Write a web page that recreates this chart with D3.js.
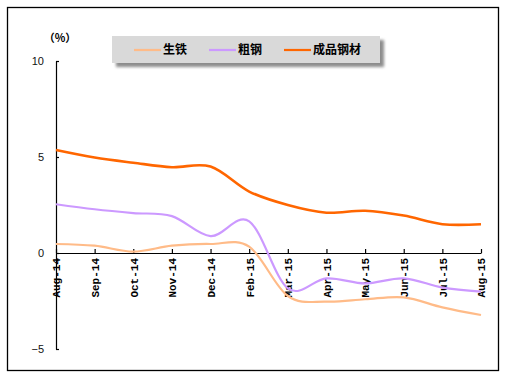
<!DOCTYPE html>
<html>
<head>
<meta charset="utf-8">
<script src="https://cdn.jsdelivr.net/npm/d3@7"></script>
<style>
  body { margin: 0; background: #fff; }
  svg { display: block; }
</style>
</head>
<body>
<div id="chart"></div>
<script>
// categories (no Jan-15 in the source)
var months = ["Aug-14","Sep-14","Oct-14","Nov-14","Dec-14","Feb-15","Mar-15","Apr-15","May-15","Jun-15","Jul-15","Aug-15"];

// year-on-year growth, %
var pigIron   = [0.47, 0.38, 0.07, 0.38, 0.47, 0.33, -2.24, -2.53, -2.41, -2.31, -2.83, -3.23];
var crudeSteel = [2.54, 2.28, 2.08, 1.92, 0.88, 1.65, -1.84, -1.32, -1.58, -1.32, -1.80, -2.01];
var steelProducts = [5.36, 4.97, 4.70, 4.47, 4.50, 3.20, 2.50, 2.10, 2.20, 1.95, 1.50, 1.50];

var seriesNames = ["生铁", "粗钢", "成品钢材"];
var seriesColors = ["#ffbb88", "#cc99ff", "#ff6600"];
var yTicks = [-5, 0, 5, 10];

var width = 515, height = 383;

var svg = d3.select("#chart").append("svg")
    .attr("width", width)
    .attr("height", height);

// outer frame
svg.append("rect")
    .attr("x", 7.5).attr("y", 7.5)
    .attr("width", 491).attr("height", 363)
    .style("fill", "#fff")
    .style("stroke", "#000")
    .style("stroke-width", 1.3);

var x = d3.scalePoint().domain(months).range([56, 481]);
var y = d3.scaleLinear().domain([-5, 10]).range([349, 61]);

// y axis
var yAxis = svg.append("g")
    .attr("transform", "translate(56,0)")
    .call(d3.axisLeft(y).tickValues(yTicks).tickSize(-3).tickSizeOuter(0).tickPadding(12));
yAxis.selectAll("text")
    .style("font-family", "Liberation Sans, Arial, sans-serif")
    .style("font-size", "11px")
    .style("fill", "#111");

// x axis at zero
var xAxis = svg.append("g")
    .attr("transform", "translate(0," + y(0) + ")")
    .call(d3.axisBottom(x).tickSize(-4).tickSizeOuter(0));
xAxis.selectAll("text")
    .attr("transform", "rotate(-90)")
    .attr("x", -5)
    .attr("y", 0)
    .attr("dy", "0.35em")
    .style("text-anchor", "end")
    .style("font-family", "Liberation Mono, Courier New, monospace")
    .style("font-weight", "bold")
    .style("font-size", "11px")
    .style("fill", "#000");

svg.selectAll(".domain, .tick line").style("stroke", "#000").style("stroke-width", 1.2);

// unit label
svg.append("text")
    .attr("x", 60).attr("y", 42)
    .style("text-anchor", "middle")
    .style("font-family", "Noto Sans CJK SC, sans-serif")
    .style("font-weight", "bold")
    .style("font-size", "11px")
    .text("（%）");

// lines
var line = d3.line()
    .x(function(d, i) { return x(months[i]); })
    .y(function(d) { return y(d); })
    .curve(d3.curveCardinal.tension(0));

var allSeries = [pigIron, crudeSteel, steelProducts];
svg.selectAll(".series")
    .data(allSeries).enter()
    .append("path").attr("class", "series")
    .attr("d", line)
    .style("fill", "none")
    .style("stroke", function(d, i) { return seriesColors[i]; })
    .style("stroke-width", function(d, i) { return i == 2 ? 2.6 : 2.2; });

// legend with soft shadow
var defs = svg.append("defs");
defs.append("filter").attr("id", "blur")
    .append("feGaussianBlur").attr("stdDeviation", 1.5);

svg.append("rect")
    .attr("x", 116).attr("y", 40)
    .attr("width", 268).attr("height", 27)
    .style("fill", "#8c8c8c")
    .attr("filter", "url(#blur)");
svg.append("rect")
    .attr("x", 112).attr("y", 36)
    .attr("width", 268).attr("height", 27)
    .style("fill", "#d9d9d9");

var legendX = [134, 209, 284];
var legend = svg.selectAll(".legend-item")
    .data(seriesNames).enter()
    .append("g").attr("class", "legend-item")
    .attr("transform", function(d, i) { return "translate(" + legendX[i] + ",50)"; });
legend.append("line")
    .attr("x1", 0).attr("x2", 27)
    .style("stroke", function(d, i) { return seriesColors[i]; })
    .style("stroke-width", 2.2);
legend.append("text")
    .attr("x", 29).attr("dy", "0.36em")
    .style("font-family", "Noto Sans CJK SC, sans-serif")
    .style("font-weight", "bold")
    .style("font-size", "12px")
    .text(function(d) { return d; });
</script>
</body>
</html>
